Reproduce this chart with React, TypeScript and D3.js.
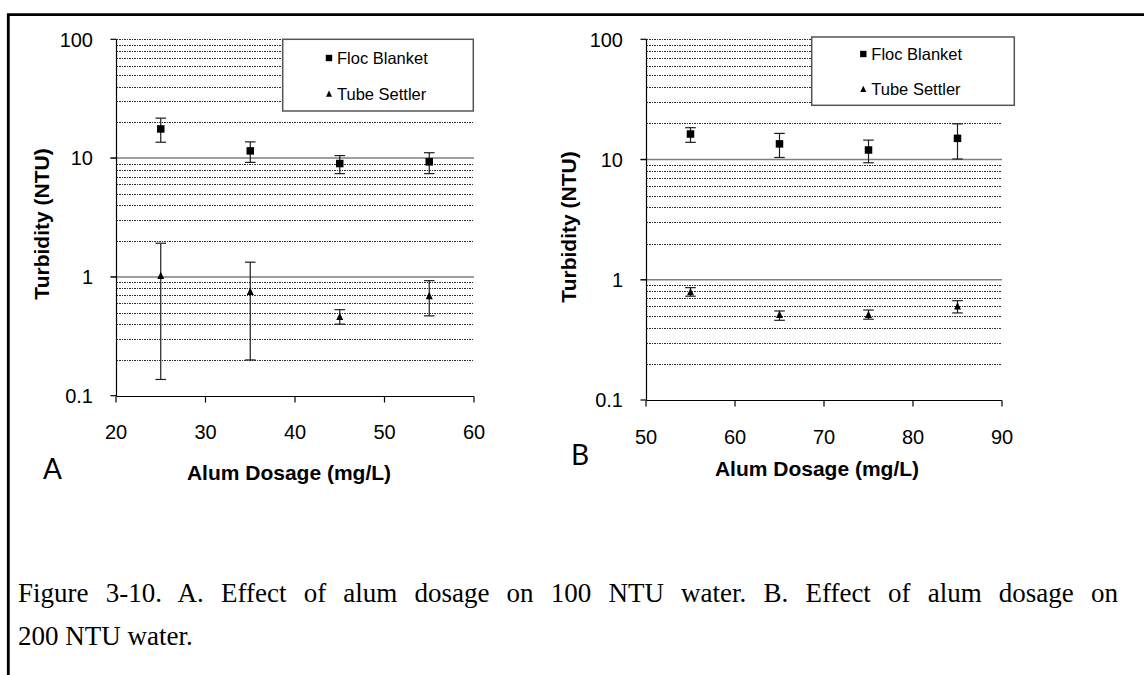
import React, { useLayoutEffect, useRef } from "react";
import * as d3 from "d3";

// ---------- data ----------
const doseA = [25, 35, 45, 55];
const flocA = [17.6, 11.5, 9.0, 9.3];
const flocAHigh = [21.7, 13.7, 10.5, 11.1];
const flocALow = [13.6, 9.2, 7.4, 7.4];
const tubeA = [1.02, 0.75, 0.46, 0.69];
const tubeAHigh = [1.92, 1.33, 0.53, 0.93];
const tubeALow = [0.137, 0.2, 0.4, 0.47];

const doseB = [55, 65, 75, 85];
const flocB = [16.3, 13.5, 12.0, 15.0];
const flocBHigh = [18.4, 16.5, 14.5, 19.8];
const flocBLow = [13.9, 10.4, 9.4, 10.1];
const tubeB = [0.79, 0.51, 0.51, 0.6];
const tubeBHigh = [0.86, 0.55, 0.56, 0.67];
const tubeBLow = [0.73, 0.46, 0.47, 0.53];

const xTicksA = [20, 30, 40, 50, 60];
const xTicksB = [50, 60, 70, 80, 90];
const yTicks = [0.1, 1, 10, 100];
const yTickLabels = ["0.1", "1", "10", "100"];
const seriesNames = ["Floc Blanket", "Tube Settler"];
const xTitle = "Alum Dosage (mg/L)";
const yTitle = "Turbidity (NTU)";
const captionLines = [
  "Figure 3-10. A. Effect of alum dosage on 100 NTU water. B. Effect of alum dosage on",
  "200 NTU water.",
];

const SANS = "'Liberation Sans', Arial, sans-serif";
const SERIF = "'Liberation Serif', 'Times New Roman', serif";

type PanelProps = {
  dose: number[];
  floc: number[];
  flocHi: number[];
  flocLo: number[];
  tube: number[];
  tubeHi: number[];
  tubeLo: number[];
  xTicks: number[];
  left: number;
  right: number;
  top: number;
  bottom: number;
  legend: { x: number; y: number; w: number; h: number; mx: number; dy1: number; dy2: number };
  yTitlePos: { x: number; y: number };
  xTitlePos: { x: number; y: number };
  letter: { text: string; x: number; y: number };
};

const snap = (v: number) => Math.round(v) + 0.5;

function Panel(p: PanelProps) {
  const x = d3.scaleLinear().domain([p.xTicks[0], p.xTicks[p.xTicks.length - 1]]).range([p.left, p.right]);
  const y = d3.scaleLog().domain([0.1, 100]).range([p.bottom, p.top]);
  const allTicks = y.ticks();
  const isMajor = (t: number) => Math.abs(t - 1) < 1e-9 || Math.abs(t - 10) < 1e-9;
  const sq = 7.5;
  const tri = (cx: number, cy: number, s: number) =>
    `M${cx},${cy - s * 0.6} L${cx + s / 2},${cy + s * 0.45} L${cx - s / 2},${cy + s * 0.45} Z`;
  const cap = 5.3;
  const errBars = (xs: number[], hi: number[], lo: number[]) =>
    xs.map((d, i) => {
      const cx = x(d);
      return (
        <g key={i} stroke="#1e1e1e" strokeWidth={1.2}>
          <line x1={cx} x2={cx} y1={y(hi[i])} y2={y(lo[i])} />
          <line x1={cx - cap} x2={cx + cap} y1={y(hi[i])} y2={y(hi[i])} />
          <line x1={cx - cap} x2={cx + cap} y1={y(lo[i])} y2={y(lo[i])} />
        </g>
      );
    });
  const L = Math.round(p.left) + 0.5;
  const B = snap(p.bottom);
  return (
    <g>
      {/* minor gridlines */}
      {allTicks
        .filter((t) => !isMajor(t) && t > 0.1 + 1e-9)
        .map((t, i) => (
          <line
            key={"m" + i}
            x1={L}
            x2={p.right}
            y1={snap(y(t))}
            y2={snap(y(t))}
            stroke="#2a2a2a"
            strokeWidth={1}
            strokeDasharray="1.5 1"
            shapeRendering="crispEdges"
          />
        ))}
      {/* major gridlines */}
      {[1, 10].map((t) => (
        <line key={"M" + t} x1={L - 6} x2={p.right} y1={y(t)} y2={y(t)} stroke="#7f7f7f" strokeWidth={1.5} />
      ))}
      {/* axes */}
      <line x1={L} x2={L} y1={p.top} y2={B} stroke="#000" strokeWidth={1.2} />
      <line x1={L} x2={p.right} y1={B} y2={B} stroke="#000" strokeWidth={1.2} />
      {yTicks.map((t) => (
        <line key={"yt" + t} x1={L - 6} x2={L} y1={y(t)} y2={y(t)} stroke="#000" strokeWidth={1.2} />
      ))}
      {p.xTicks.map((t) => (
        <line key={"xt" + t} x1={x(t)} x2={x(t)} y1={B} y2={B + 6} stroke="#000" strokeWidth={1.2} />
      ))}
      {yTicks.map((t, i) => (
        <text key={"yl" + t} x={p.left - 23} y={y(t)} dy="0.36em" textAnchor="end" fontFamily={SANS} fontSize={20} fill="#000">
          {yTickLabels[i]}
        </text>
      ))}
      {p.xTicks.map((t) => (
        <text key={"xl" + t} x={x(t)} y={p.bottom + 36.5} dy="0.36em" textAnchor="middle" fontFamily={SANS} fontSize={20} fill="#000">
          {t}
        </text>
      ))}
      {/* titles */}
      <text
        transform={`translate(${p.yTitlePos.x},${p.yTitlePos.y}) rotate(-90)`}
        dy="0.36em"
        textAnchor="middle"
        fontFamily={SANS}
        fontWeight="bold"
        fontSize={21}
        fill="#000"
      >
        {yTitle}
      </text>
      <text x={p.xTitlePos.x} y={p.xTitlePos.y} dy="0.36em" textAnchor="middle" fontFamily={SANS} fontWeight="bold" fontSize={21} fill="#000">
        {xTitle}
      </text>
      <text x={p.letter.x} y={p.letter.y} dy="0.36em" textAnchor="middle" fontFamily="Lato, 'Open Sans', sans-serif" fontSize={28} fill="#000">
        {p.letter.text}
      </text>
      {/* data */}
      {errBars(p.dose, p.flocHi, p.flocLo)}
      {errBars(p.dose, p.tubeHi, p.tubeLo)}
      {p.dose.map((d, i) => (
        <rect key={"f" + i} x={x(d) - sq / 2} y={y(p.floc[i]) - sq / 2} width={sq} height={sq} fill="#000" />
      ))}
      {p.dose.map((d, i) => (
        <path key={"t" + i} d={tri(x(d), y(p.tube[i]), 7)} fill="#000" />
      ))}
      {/* legend */}
      <rect x={p.legend.x} y={p.legend.y} width={p.legend.w} height={p.legend.h} fill="#fff" stroke="#555" strokeWidth={1.5} />
      <rect x={p.legend.x + p.legend.mx - 3.2} y={p.legend.y + p.legend.dy1 - 3.2} width={6.4} height={6.4} fill="#000" />
      <path d={tri(p.legend.x + p.legend.mx, p.legend.y + p.legend.dy2, 6)} fill="#000" />
      <text x={p.legend.x + p.legend.mx + 8} y={p.legend.y + p.legend.dy1} dy="0.36em" fontFamily={SANS} fontSize={16.5} fill="#000">
        {seriesNames[0]}
      </text>
      <text x={p.legend.x + p.legend.mx + 8} y={p.legend.y + p.legend.dy2} dy="0.36em" fontFamily={SANS} fontSize={16.5} fill="#000">
        {seriesNames[1]}
      </text>
    </g>
  );
}

function Caption() {
  const ref = useRef<SVGTextElement>(null);
  const startX = 18;
  const endX = 1118;
  useLayoutEffect(() => {
    const el = ref.current;
    if (!el) return;
    el.style.wordSpacing = "0px";
    const natural = el.getComputedTextLength();
    const spaces = (captionLines[0].match(/ /g) || []).length;
    const extra = Math.max(0, (endX - startX - natural) / spaces);
    el.style.wordSpacing = `${extra}px`;
  }, []);
  return (
    <g fontFamily={SERIF} fontSize={27} fill="#000">
      <text ref={ref} x={startX} y={602}>
        {captionLines[0]}
      </text>
      <text x={startX} y={645}>
        {captionLines[1]}
      </text>
    </g>
  );
}

export default function App() {
  return (
    <svg width={1144} height={675} style={{ position: "absolute", left: 0, top: 0, background: "#fff" }}>
      <rect x={0} y={0} width={1144} height={675} fill="#fff" />
      <path d="M1144,14.7 H8.3 V675" fill="none" stroke="#000" strokeWidth={2.8} />
      <Panel
        dose={doseA}
        floc={flocA}
        flocHi={flocAHigh}
        flocLo={flocALow}
        tube={tubeA}
        tubeHi={tubeAHigh}
        tubeLo={tubeALow}
        xTicks={xTicksA}
        left={116}
        right={474}
        top={39.3}
        bottom={395.7}
        legend={{ x: 282.7, y: 39.3, w: 190.6, h: 71.7, mx: 46.3, dy1: 18.7, dy2: 54.7 }}
        yTitlePos={{ x: 41, y: 224 }}
        xTitlePos={{ x: 289, y: 472 }}
        letter={{ text: "A", x: 52.5, y: 469 }}
      />
      <Panel
        dose={doseB}
        floc={flocB}
        flocHi={flocBHigh}
        flocLo={flocBLow}
        tube={tubeB}
        tubeHi={tubeBHigh}
        tubeLo={tubeBLow}
        xTicks={xTicksB}
        left={646}
        right={1002}
        top={39.3}
        bottom={400}
        legend={{ x: 811.7, y: 37, w: 202.6, h: 68.3, mx: 51.6, dy1: 17, dy2: 52.3 }}
        yTitlePos={{ x: 568, y: 227 }}
        xTitlePos={{ x: 817, y: 468.3 }}
        letter={{ text: "B", x: 580, y: 455 }}
      />
      <Caption />
    </svg>
  );
}
